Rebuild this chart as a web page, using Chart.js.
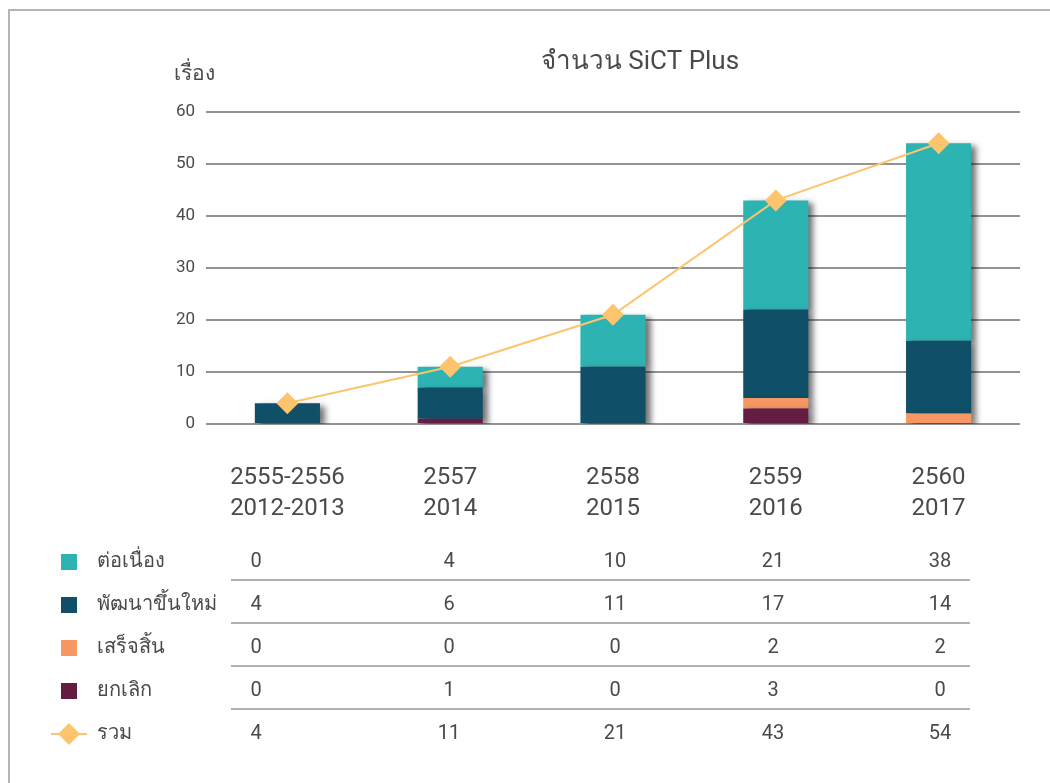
<!DOCTYPE html>
<html>
<head>
<meta charset="utf-8">
<script src="https://cdn.jsdelivr.net/npm/chart.js@4/dist/chart.umd.min.js"></script>
<style>
  html, body { margin: 0; padding: 0; background: #fff; }
  #wrap { position: relative; width: 1050px; height: 783px; overflow: hidden; }
  #frame { position: absolute; left: 8px; top: 9px; width: 1100px; height: 900px; border: 2px solid #b4b4b4; }
  #c { position: absolute; left: 0; top: 0; }
</style>
</head>
<body>
<div id="wrap">
  <div id="frame"></div>
  <canvas id="c" width="1050" height="783"></canvas>
</div>
<script>
const years = [['2555-2556', '2012-2013'], ['2557', '2014'], ['2558', '2015'], ['2559', '2016'], ['2560', '2017']];
const tickValues = [0, 10, 20, 30, 40, 50, 60];

const seriesNames = ['ต่อเนื่อง', 'พัฒนาขึ้นใหม่', 'เสร็จสิ้น', 'ยกเลิก', 'รวม'];
const continuing = [0, 4, 10, 21, 38];
const newDev = [4, 6, 11, 17, 14];
const finished = [0, 0, 0, 2, 2];
const cancelled = [0, 1, 0, 3, 0];
const total = [4, 11, 21, 43, 54];

const colors = ['#2db3b2', '#0f5068', '#f79764', '#651c43', '#fdc46e'];
const font = "Roboto, 'Noto Sans', sans-serif";

// bar shadow to the right, like the original
const shadowPlugin = {
  id: 'shadow',
  beforeDatasetDraw(chart, args) {
    if (args.meta.type !== 'bar') return;
    const ctx = chart.ctx;
    ctx.save();
    ctx.shadowColor = 'rgba(0,0,0,0.55)';
    ctx.shadowBlur = 6;
    ctx.shadowOffsetX = 5;
    ctx.shadowOffsetY = 3;
  },
  afterDatasetDraw(chart, args) {
    if (args.meta.type !== 'bar') return;
    chart.ctx.restore();
  }
};

// title, unit and the data table under the chart
const tablePlugin = {
  id: 'table',
  afterDraw(chart) {
    const ctx = chart.ctx;
    ctx.save();
    ctx.fillStyle = '#4a4a4a';
    ctx.textBaseline = 'middle';
    ctx.textAlign = 'center';
    ctx.font = '26px ' + font;
    ctx.fillText('จำนวน SiCT Plus', 640, 62);
    ctx.textAlign = 'left';
    ctx.font = '21px ' + font;
    ctx.fillText('เรื่อง', 174, 75);

    const rows = [continuing, newDev, finished, cancelled, total];
    const rowY = [562, 605, 648, 691, 734];
    const colX = [256, 449, 615, 773, 940];
    rows.forEach((vals, r) => {
      const y = rowY[r];
      if (r < 4) {
        ctx.fillStyle = colors[r];
        ctx.fillRect(61, y - 8, 16, 16);
      } else {
        ctx.strokeStyle = colors[4];
        ctx.lineWidth = 2;
        ctx.beginPath();
        ctx.moveTo(51, y);
        ctx.lineTo(87, y);
        ctx.stroke();
        ctx.fillStyle = colors[4];
        ctx.beginPath();
        ctx.moveTo(69, y - 11);
        ctx.lineTo(80, y);
        ctx.lineTo(69, y + 11);
        ctx.lineTo(58, y);
        ctx.closePath();
        ctx.fill();
      }
      ctx.fillStyle = '#4a4a4a';
      ctx.font = '20px ' + font;
      ctx.textAlign = 'left';
      ctx.fillText(seriesNames[r], 97, y);
      ctx.textAlign = 'center';
      vals.forEach((v, i) => ctx.fillText(String(v), colX[i], y));
      if (r < 4) {
        ctx.strokeStyle = '#b0b0b0';
        ctx.lineWidth = 2;
        ctx.beginPath();
        ctx.moveTo(231, y + 18);
        ctx.lineTo(970, y + 18);
        ctx.stroke();
      }
    });
    ctx.restore();
  }
};

new Chart(document.getElementById('c'), {
  data: {
    labels: years,
    datasets: [
      { type: 'line', label: seriesNames[4], data: total, borderColor: colors[4], backgroundColor: colors[4],
        borderWidth: 2, pointStyle: 'rectRot', pointRadius: 11, pointBorderWidth: 0, order: 0 },
      { type: 'bar', label: seriesNames[3], data: cancelled, backgroundColor: colors[3], stack: 's', order: 1 },
      { type: 'bar', label: seriesNames[2], data: finished, backgroundColor: colors[2], stack: 's', order: 1 },
      { type: 'bar', label: seriesNames[1], data: newDev, backgroundColor: colors[1], stack: 's', order: 1 },
      { type: 'bar', label: seriesNames[0], data: continuing, backgroundColor: colors[0], stack: 's', order: 1 }
    ]
  },
  options: {
    responsive: false,
    animation: false,
    layout: { padding: { left: 146, right: 30, top: 112, bottom: 259 } },
    datasets: { bar: { barPercentage: 0.8, categoryPercentage: 0.5 } },
    plugins: { legend: { display: false }, tooltip: { enabled: false } },
    scales: {
      x: {
        stacked: true,
        grid: { display: false },
        border: { display: false },
        ticks: { color: '#4a4a4a', font: { family: font, size: 24, lineHeight: 1.3 }, padding: 30, maxRotation: 0 },
        afterFit: (s) => { s.height = 100; }
      },
      y: {
        stacked: true,
        min: 0,
        max: 60,
        afterBuildTicks: (s) => { s.ticks = tickValues.map(v => ({ value: v })); },
        afterFit: (s) => { s.width = 60; },
        grid: { color: '#939393', lineWidth: 2, drawTicks: false },
        border: { display: false },
        ticks: { color: '#4a4a4a', font: { family: font, size: 17 }, padding: 11 }
      }
    }
  },
  plugins: [shadowPlugin, tablePlugin]
});
</script>
</body>
</html>
